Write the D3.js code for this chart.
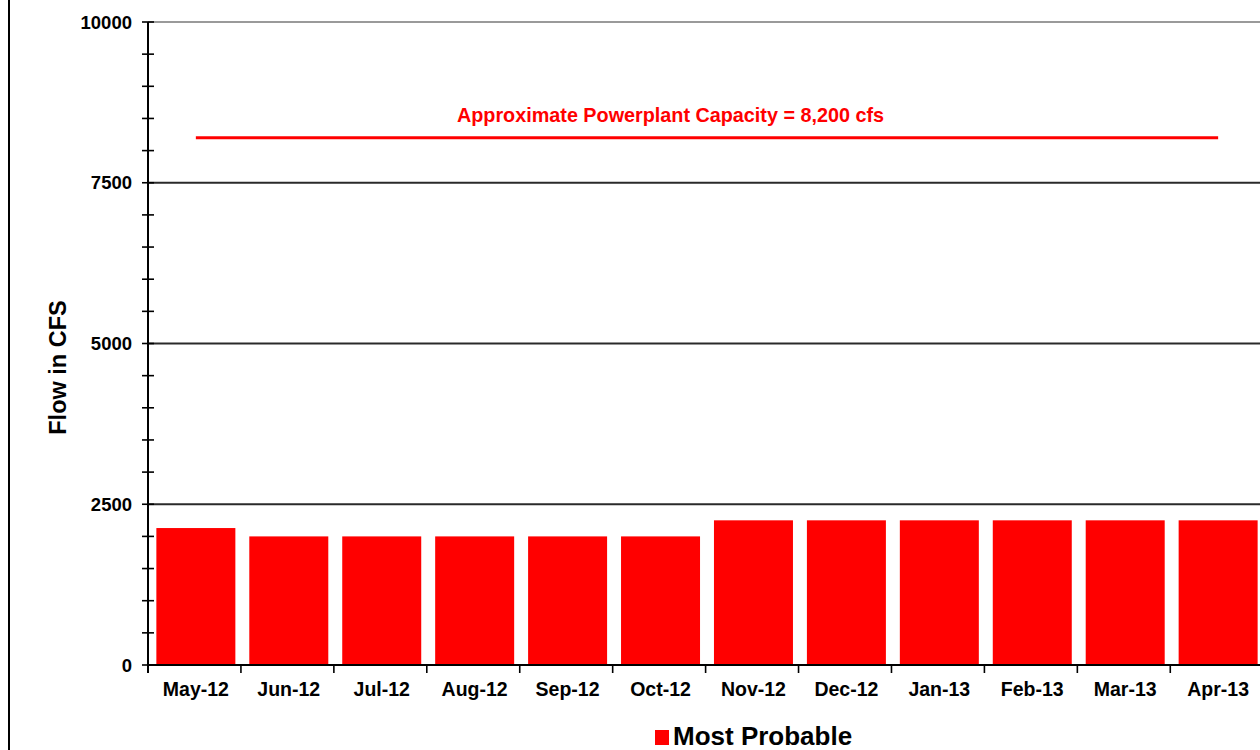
<!DOCTYPE html>
<html>
<head>
<meta charset="utf-8">
<script src="https://cdn.jsdelivr.net/npm/d3@7"></script>
<style>
	html, body { margin: 0; padding: 0; background: #fff; }
	svg { display: block; }
</style>
</head>
<body>
<svg id="chart" width="1260" height="750" font-family="Arial, 'Liberation Sans', sans-serif"></svg>
<script>
	'use strict';

	// months on the x axis
	const months = ['May-12', 'Jun-12', 'Jul-12', 'Aug-12', 'Sep-12', 'Oct-12',
		'Nov-12', 'Dec-12', 'Jan-13', 'Feb-13', 'Mar-13', 'Apr-13'];
	// "Most Probable" release, cfs
	const mostProbable = [2130, 2000, 2000, 2000, 2000, 2000,
		2250, 2250, 2250, 2250, 2250, 2250];
	const yTicks = [0, 2500, 5000, 7500, 10000];
	const capacity = 8200;
	const capacityLabel = 'Approximate Powerplant Capacity = 8,200 cfs';
	const seriesName = 'Most Probable';

	const svg = d3.select('#chart');
	const red = '#ff0000';

	const plot = { left: 148, right: 1266, top: 22, bottom: 665 };

	const x = d3.scaleBand()
		.domain(months)
		.range([plot.left, plot.right])
		.paddingInner(0.15)
		.paddingOuter(0.09);

	const y = d3.scaleLinear()
		.domain([0, 10000])
		.range([plot.bottom, plot.top]);

	// outer frame edge on the left
	svg.append('line')
		.attr('x1', 9).attr('x2', 9)
		.attr('y1', 0).attr('y2', 750)
		.attr('stroke', '#000')
		.attr('stroke-width', 2);

	// gridlines
	svg.append('g')
		.selectAll('line')
		.data(yTicks.filter(function(d) { return d > 0; }))
		.enter().append('line')
		.attr('x1', plot.left)
		.attr('x2', 1260)
		.attr('y1', function(d) { return y(d); })
		.attr('y2', function(d) { return y(d); })
		.attr('stroke', function(d) { return d === 10000 ? '#9a9a9a' : '#2a2a2a'; })
		.attr('stroke-width', 1.8);

	// bars
	svg.append('g')
		.selectAll('rect')
		.data(mostProbable)
		.enter().append('rect')
		.attr('x', function(d, i) { return x(months[i]); })
		.attr('y', function(d) { return y(d); })
		.attr('width', x.bandwidth())
		.attr('height', function(d) { return y(0) - y(d); })
		.attr('fill', red);

	// y axis with minor ticks every 500
	const yAxis = svg.append('g');
	yAxis.append('line')
		.attr('x1', plot.left).attr('x2', plot.left)
		.attr('y1', plot.top).attr('y2', plot.bottom + 8)
		.attr('stroke', '#000')
		.attr('stroke-width', 2);
	yAxis.selectAll('.minor')
		.data(d3.range(0, 10001, 500))
		.enter().append('line')
		.attr('x1', plot.left - 6)
		.attr('x2', plot.left + 6)
		.attr('y1', function(d) { return y(d); })
		.attr('y2', function(d) { return y(d); })
		.attr('stroke', '#000')
		.attr('stroke-width', 1.6);
	yAxis.selectAll('text')
		.data(yTicks)
		.enter().append('text')
		.attr('x', 132)
		.attr('y', function(d) { return y(d); })
		.attr('dy', '0.36em')
		.attr('text-anchor', 'end')
		.attr('font-size', 18.5)
		.attr('font-weight', 'bold')
		.text(function(d) { return d; });

	// x axis
	const xAxis = svg.append('g');
	xAxis.append('line')
		.attr('x1', plot.left).attr('x2', 1260)
		.attr('y1', plot.bottom).attr('y2', plot.bottom)
		.attr('stroke', '#000')
		.attr('stroke-width', 2);
	const step = x.step();
	xAxis.selectAll('.tick')
		.data(months)
		.enter().append('line')
		.attr('x1', function(d) { return x(d) - (x.paddingOuter() * step); })
		.attr('x2', function(d) { return x(d) - (x.paddingOuter() * step); })
		.attr('y1', plot.bottom)
		.attr('y2', plot.bottom + 8)
		.attr('stroke', '#000')
		.attr('stroke-width', 1.6);
	xAxis.selectAll('text')
		.data(months)
		.enter().append('text')
		.attr('x', function(d) { return x(d) + x.bandwidth() / 2; })
		.attr('y', 696)
		.attr('text-anchor', 'middle')
		.attr('font-size', 19.5)
		.attr('font-weight', 'bold')
		.text(function(d) { return d; });

	// axis title
	svg.append('text')
		.attr('transform', 'translate(66,' + ((plot.top + plot.bottom) / 2 + 24) + ') rotate(-90)')
		.attr('text-anchor', 'middle')
		.attr('font-size', 23.5)
		.attr('font-weight', 'bold')
		.text('Flow in CFS');

	// capacity line + label
	const capX1 = x(months[0]) + x.bandwidth() / 2;
	const capX2 = x(months[months.length - 1]) + x.bandwidth() / 2;
	svg.append('line')
		.attr('x1', capX1).attr('x2', capX2)
		.attr('y1', y(capacity)).attr('y2', y(capacity))
		.attr('stroke', red)
		.attr('stroke-width', 3);
	svg.append('text')
		.attr('x', x('Oct-12') + x.bandwidth() / 2 + 10)
		.attr('y', y(capacity) - 16)
		.attr('text-anchor', 'middle')
		.attr('font-size', 19.8)
		.attr('font-weight', 'bold')
		.attr('fill', red)
		.text(capacityLabel);

	// legend
	const legend = svg.append('g');
	legend.append('rect')
		.attr('x', 655).attr('y', 730)
		.attr('width', 14).attr('height', 15)
		.attr('fill', red);
	legend.append('text')
		.attr('x', 673)
		.attr('y', 745)
		.attr('font-size', 26)
		.attr('font-weight', 'bold')
		.text(seriesName);
</script>
</body>
</html>
